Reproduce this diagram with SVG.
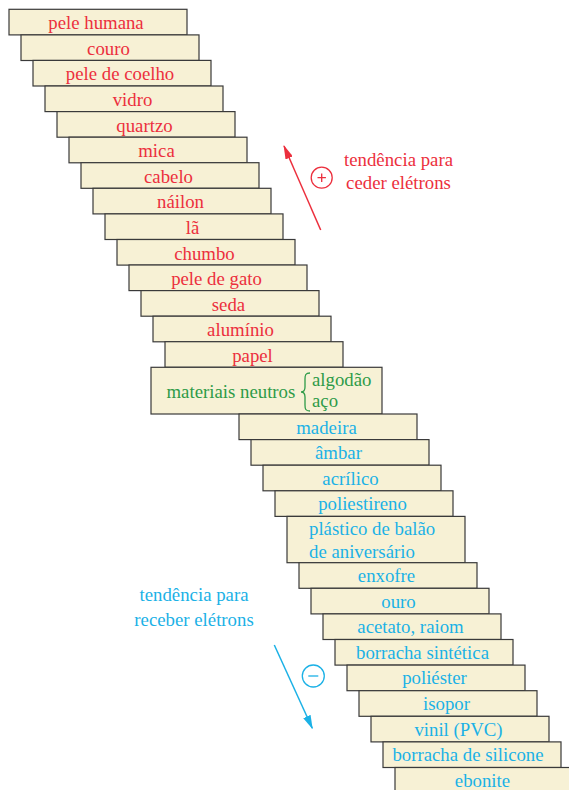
<svg xmlns="http://www.w3.org/2000/svg" width="569" height="790" viewBox="0 0 569 790">
<style>
.b{fill:#f7f1d5;stroke:#3a3a3a;stroke-width:1.2}
text{font-family:"Liberation Serif","Times New Roman",serif;font-size:18.8px}
.r{fill:#ec2f3d}
.g{fill:#2e9b48}
.u{fill:#1bb1e6}
.c{text-anchor:middle}
</style>
<defs>
<marker id="ar" viewBox="0 0 14 8" markerWidth="14" markerHeight="8" refX="13" refY="4" orient="auto" markerUnits="userSpaceOnUse"><path d="M0,0 L14,4 L0,8 z" fill="#ec2f3d"/></marker>
<marker id="au" viewBox="0 0 14 8" markerWidth="14" markerHeight="8" refX="13" refY="4" orient="auto" markerUnits="userSpaceOnUse"><path d="M0,0 L14,4 L0,8 z" fill="#1bb1e6"/></marker>
</defs>
<rect width="569" height="790" fill="#ffffff"/>
<g id="n1"><rect class="b" x="9" y="9.3" width="178" height="25.6"/><text class="r c" x="96" y="29.3">pele humana</text></g>
<g id="n2"><rect class="b" x="21" y="34.9" width="178" height="25.6"/><text class="r c" x="108.5" y="54.9">couro</text></g>
<g id="n3"><rect class="b" x="33" y="60.4" width="178" height="25.6"/><text class="r c" x="120" y="80.4">pele de coelho</text></g>
<g id="n4"><rect class="b" x="45" y="86" width="178" height="25.6"/><text class="r c" x="132.5" y="106">vidro</text></g>
<g id="n5"><rect class="b" x="57" y="111.6" width="178" height="25.6"/><text class="r c" x="144.5" y="131.6">quartzo</text></g>
<g id="n6"><rect class="b" x="69" y="137.2" width="178" height="25.6"/><text class="r c" x="156.5" y="157.2">mica</text></g>
<g id="n7"><rect class="b" x="81" y="162.7" width="178" height="25.6"/><text class="r c" x="168.5" y="182.7">cabelo</text></g>
<g id="n8"><rect class="b" x="93" y="188.3" width="178" height="25.6"/><text class="r c" x="180.5" y="208.3">náilon</text></g>
<g id="n9"><rect class="b" x="105" y="213.9" width="178" height="25.6"/><text class="r c" x="192.5" y="233.9">lã</text></g>
<g id="n10"><rect class="b" x="117" y="239.5" width="178" height="25.6"/><text class="r c" x="204.5" y="259.5">chumbo</text></g>
<g id="n11"><rect class="b" x="129" y="265" width="178" height="25.6"/><text class="r c" x="216.5" y="285">pele de gato</text></g>
<g id="n12"><rect class="b" x="141" y="290.6" width="178" height="25.6"/><text class="r c" x="228.5" y="310.6">seda</text></g>
<g id="n13"><rect class="b" x="153" y="316.2" width="178" height="25.6"/><text class="r c" x="240.5" y="336.2">alumínio</text></g>
<g id="n14"><rect class="b" x="165" y="341.7" width="178" height="25.6"/><text class="r c" x="252.5" y="361.7">papel</text></g>
<g id="neutral"><rect class="b" x="151" y="367.3" width="231" height="46.7"/>
<text class="g" x="166.5" y="398">materiais neutros</text>
<path d="M310,373 C305.5,373 305,375 305,379 L305,387 C305,390 304,392 301,392 C304,392 305,394 305,397 L305,405 C305,409 305.5,411 310,411" fill="none" stroke="#2e9b48" stroke-width="1.3"/>
<text class="g" x="312" y="386">algodão</text>
<text class="g" x="312" y="407">aço</text></g>
<g id="n15"><rect class="b" x="239" y="414" width="178" height="25.6"/><text class="u c" x="326.5" y="433.5">madeira</text></g>
<g id="n16"><rect class="b" x="251" y="439.6" width="178" height="25.6"/><text class="u c" x="338.5" y="459.1">âmbar</text></g>
<g id="n17"><rect class="b" x="263" y="465.2" width="178" height="25.6"/><text class="u c" x="350.5" y="484.7">acrílico</text></g>
<g id="n18"><rect class="b" x="275" y="490.8" width="178" height="25.6"/><text class="u c" x="362.5" y="510.3">poliestireno</text></g>
<g id="n19"><rect class="b" x="287" y="516.4" width="178" height="46.3"/><text class="u" x="309" y="535">plástico de balão</text><text class="u" x="309" y="557.5">de aniversário</text></g>
<g id="n20"><rect class="b" x="299" y="562.7" width="178" height="25.6"/><text class="u c" x="386.5" y="582">enxofre</text></g>
<g id="n21"><rect class="b" x="311" y="588.3" width="178" height="25.6"/><text class="u c" x="398.5" y="607.6">ouro</text></g>
<g id="n22"><rect class="b" x="323" y="613.9" width="178" height="25.6"/><text class="u c" x="410.5" y="633.2">acetato, raiom</text></g>
<g id="n23"><rect class="b" x="335" y="639.5" width="178" height="25.6"/><text class="u c" x="422.5" y="658.8">borracha sintética</text></g>
<g id="n24"><rect class="b" x="347" y="665.1" width="178" height="25.6"/><text class="u c" x="434.5" y="684.4">poliéster</text></g>
<g id="n25"><rect class="b" x="359" y="690.7" width="178" height="25.6"/><text class="u c" x="446.5" y="710">isopor</text></g>
<g id="n26"><rect class="b" x="371" y="716.3" width="178" height="25.6"/><text class="u c" x="458.5" y="735.6">vinil (PVC)</text></g>
<g id="n27"><rect class="b" x="383" y="741.9" width="178" height="25.6"/><text class="u c" x="468" y="761.2">borracha de silicone</text></g>
<g id="n28"><rect class="b" x="395" y="767.5" width="178" height="25.6"/><text class="u c" x="482.5" y="786.8">ebonite</text></g>
<g id="connectors">
<line x1="320.7" y1="230" x2="284" y2="146" stroke="#ec2f3d" stroke-width="1.5" marker-end="url(#ar)"/>
<line x1="274.3" y1="645" x2="312.3" y2="728.3" stroke="#1bb1e6" stroke-width="1.5" marker-end="url(#au)"/>
</g>
<g id="label-ceder">
<circle cx="321.7" cy="177.7" r="10.5" fill="none" stroke="#ec2f3d" stroke-width="1.3"/>
<path d="M321.7,173.5 V181.9 M317.5,177.7 H325.9" stroke="#ec2f3d" stroke-width="1.3"/>
<text class="r c" x="398.5" y="166">tendência para</text>
<text class="r c" x="398.5" y="188.5">ceder elétrons</text>
</g>
<g id="label-receber">
<circle cx="313.3" cy="676" r="11" fill="none" stroke="#1bb1e6" stroke-width="1.3"/>
<path d="M308.3,676 H318.3" stroke="#1bb1e6" stroke-width="1.3"/>
<text class="u c" x="194" y="601">tendência para</text>
<text class="u c" x="194" y="625.5">receber elétrons</text>
</g>
</svg>
